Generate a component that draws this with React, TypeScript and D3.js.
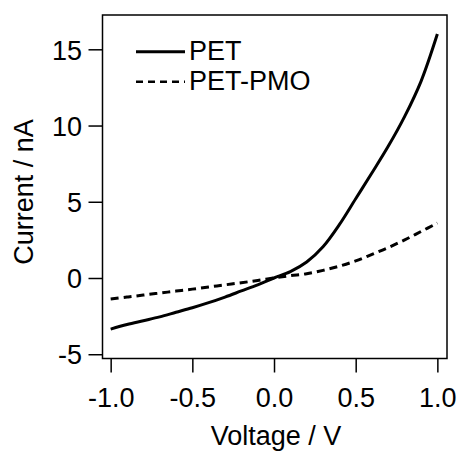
import React, { useEffect, useRef } from "react";
import * as d3 from "d3";

// I-V data
const voltage = [-1.0, -0.9, -0.8, -0.7, -0.6, -0.5, -0.4, -0.3, -0.2, -0.1, 0.0, 0.1, 0.2, 0.3, 0.4, 0.5, 0.6, 0.7, 0.8, 0.9, 1.0];
const currentPET = [-3.35, -3.05, -2.8, -2.55, -2.25, -1.95, -1.62, -1.25, -0.85, -0.45, 0.0, 0.42, 1.05, 2.05, 3.5, 5.2, 6.9, 8.65, 10.6, 12.9, 16.0];
const currentPMO = [-1.38, -1.25, -1.12, -0.99, -0.86, -0.73, -0.59, -0.45, -0.31, -0.16, 0.0, 0.15, 0.28, 0.5, 0.78, 1.12, 1.55, 2.0, 2.5, 3.05, 3.6];
const xTicks = [-1.0, -0.5, 0.0, 0.5, 1.0];
const yTicks = [-5, 0, 5, 10, 15];
const seriesNames = ["PET", "PET-PMO"];

const App = () => {
  const svgRef = useRef<SVGSVGElement>(null);

  useEffect(() => {
    const w = 458;
    const h = 452;
    const left = 102.5, right = 447, top = 15, bottom = 358.5;
    const font = "'Liberation Sans', Arial, sans-serif";

    const svg = d3.select(svgRef.current).attr("width", w).attr("height", h);
    svg.selectAll("*").remove();

    const x = d3.scaleLinear().domain([-1.05, 1.059]).range([left, right]);
    const y = d3.scaleLinear().domain([-5.28, 17.25]).range([bottom, top]);

    // frame
    svg
      .append("rect")
      .attr("x", left)
      .attr("y", top)
      .attr("width", right - left)
      .attr("height", bottom - top)
      .attr("fill", "none")
      .attr("stroke", "#000")
      .attr("stroke-width", 1.5);

    // y axis
    const gy = svg
      .append("g")
      .attr("transform", `translate(${left},0)`)
      .call(
        d3.axisLeft(y).tickValues(yTicks).tickSize(14).tickPadding(6.5).tickFormat((d) => String(d))
      );
    // x axis
    const gx = svg
      .append("g")
      .attr("transform", `translate(0,${bottom})`)
      .call(
        d3.axisBottom(x).tickValues(xTicks).tickSize(14).tickPadding(15).tickFormat((d) => (+d).toFixed(1))
      );
    [gx, gy].forEach((g) => {
      g.select(".domain").remove();
      g.selectAll("line").attr("stroke", "#000").attr("stroke-width", 1.5);
      g.selectAll("text").attr("fill", "#000").style("font-family", font).style("font-size", "27px");
    });
    gy.selectAll("text").attr("dy", "0.36em");

    // axis titles
    svg
      .append("text")
      .attr("x", 276)
      .attr("y", 445)
      .attr("text-anchor", "middle")
      .style("font-family", font)
      .style("font-size", "27px")
      .text("Voltage / V");
    svg
      .append("text")
      .attr("transform", "translate(33,192) rotate(-90)")
      .attr("text-anchor", "middle")
      .style("font-family", font)
      .style("font-size", "27px")
      .text("Current / nA");

    // lines
    const line = d3
      .line<number>()
      .x((d, i) => x(voltage[i]))
      .y((d) => y(d))
      .curve(d3.curveCatmullRom.alpha(0.5));

    svg
      .append("path")
      .attr("d", line(currentPET))
      .attr("fill", "none")
      .attr("stroke", "#000")
      .attr("stroke-width", 3);
    svg
      .append("path")
      .attr("d", line(currentPMO))
      .attr("fill", "none")
      .attr("stroke", "#000")
      .attr("stroke-width", 3)
      .attr("stroke-dasharray", "8,5");

    // legend
    const legend = svg.append("g");
    seriesNames.forEach((name, i) => {
      const ly = 51.7 + i * 30;
      legend
        .append("line")
        .attr("x1", 136)
        .attr("x2", 185)
        .attr("y1", ly)
        .attr("y2", ly)
        .attr("stroke", "#000")
        .attr("stroke-width", i === 0 ? 3 : 2.5)
        .attr("stroke-dasharray", i === 0 ? null : "7,5");
      legend
        .append("text")
        .attr("x", 189)
        .attr("y", ly + 8.7)
        .style("font-family", font)
        .style("font-size", "27px")
        .text(name);
    });
  }, []);

  return (
    <div style={{ position: "absolute", left: 0, top: 0 }}>
      <svg ref={svgRef} style={{ display: "block", background: "#fff" }}></svg>
    </div>
  );
};

export default App;
